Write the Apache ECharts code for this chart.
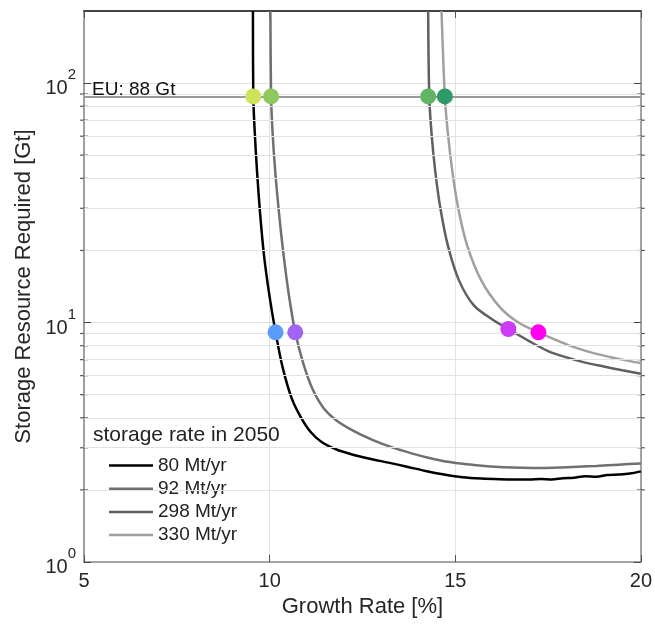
<!DOCTYPE html>
<html><head><meta charset="utf-8">
<script src="https://cdn.jsdelivr.net/npm/echarts/dist/echarts.min.js"></script>
<style>html,body{margin:0;padding:0;background:#fff}#c{width:655px;height:626px}</style>
</head><body><div id="c"></div>
<script>
// ---- data ----
const xTicks = [5, 10, 15, 20];
const yMinorTicks = [2,3,4,5,6,7,8,9,20,30,40,50,60,70,80,90];
const seriesNames = ['80 Mt/yr', '92 Mt/yr', '298 Mt/yr', '330 Mt/yr'];

const rate80X = [9.55,9.56,9.6,9.66,9.74,9.85,10.0,10.16,10.35,10.6,10.85,11.1,11.4,11.8,12.2,12.7,13.2,13.7,14.2,14.7,15.2,15.7,16.2,16.6,17.0,17.3,17.6,17.9,18.2,18.5,18.8,19.1,19.4,19.7,20.0];
const rate80Y = [200,88,62,43,29,19,12.8,9.1,6.5,4.8,4.0,3.5,3.17,2.95,2.82,2.7,2.6,2.5,2.4,2.32,2.26,2.23,2.215,2.21,2.21,2.22,2.21,2.24,2.25,2.28,2.27,2.31,2.32,2.34,2.39];

const rate92X = [10.02,10.04,10.08,10.15,10.25,10.37,10.52,10.69,10.9,11.15,11.45,11.8,12.3,12.8,13.3,13.8,14.3,14.8,15.3,15.8,16.3,16.8,17.3,17.8,18.3,18.8,19.4,20.0];
const rate92Y = [200,88,62,43,29,19.5,13,9.1,6.8,5.3,4.4,3.9,3.5,3.22,3.01,2.85,2.72,2.62,2.56,2.52,2.49,2.475,2.47,2.48,2.5,2.52,2.55,2.58];

const rate298X = [14.27,14.3,14.36,14.46,14.6,14.8,15.1,15.5,16.0,16.43,17.0,17.5,18.0,18.5,19.0,19.5,20.0];
const rate298Y = [200,88,62,43,30,21,15,11.8,10.3,9.4,8.35,7.6,7.15,6.8,6.55,6.32,6.11];

const rate330X = [14.63,14.72,14.8,14.92,15.08,15.32,15.7,16.2,16.7,17.24,17.8,18.3,18.8,19.4,20.0];
const rate330Y = [200,88,62,43,30,21,15,11.6,10.0,9.1,8.35,7.8,7.4,7.05,6.77];

const dotsX = [9.56, 10.04, 14.27, 14.72, 10.16, 10.69, 16.43, 17.24];
const dotsY = [88, 88, 88, 88, 9.1, 9.1, 9.4, 9.1];

const euValue = 88;
const euLabel = 'EU: 88 Gt';
const legendTitle = 'storage rate in 2050';

// ---- styles ----
const FONT = 'Liberation Sans, Arial, Helvetica, sans-serif';
const lineColors = ['#000000', '#707070', '#606060', '#a0a0a0'];
const dotColors = ['#cde35a', '#8fc95d', '#62b465', '#2e9a68', '#5b9bfb', '#a164f5', '#cc3cf5', '#ff00ef'];
const gridColor = '#e2e2e2';

const zip = (xs, ys) => xs.map((x, i) => [x, ys[i]]);
const curves = [zip(rate80X, rate80Y), zip(rate92X, rate92Y), zip(rate298X, rate298Y), zip(rate330X, rate330Y)];

const chart = echarts.init(document.getElementById('c'), null, {renderer: 'canvas'});

const supLabel = v => {
  const l = Math.log10(v), e = Math.round(l);
  if (Math.abs(l - e) > 1e-6) return '';
  return '{b|10}{s|' + e + '}';
};

const lineSeries = curves.map((d, i) => ({
  name: seriesNames[i], type: 'line', data: d, xAxisIndex: 0, yAxisIndex: 0,
  symbol: 'none', smooth: 0.3, z: 3,
  lineStyle: {color: lineColors[i], width: 2.5}, itemStyle: {color: lineColors[i]},
  clip: true
}));

const minorTickData = [];
yMinorTicks.forEach(v => { minorTickData.push([xTicks[0], v]); minorTickData.push([xTicks[xTicks.length - 1], v]); });

const option = {
  animation: false,
  backgroundColor: '#fff',
  textStyle: {fontFamily: FONT},
  grid: {left: 84, right: 14, top: 11, bottom: 64, containLabel: false},
  legend: {
    data: seriesNames, orient: 'vertical', left: 104, top: 451,
    icon: 'rect', itemWidth: 44, itemHeight: 2.5, itemGap: 4.2,
    textStyle: {fontSize: 19, color: '#222', fontFamily: FONT},
    selectedMode: false
  },
  graphic: [{
    type: 'text', left: 93, top: 425, z: 10,
    style: {text: legendTitle, fontSize: 21, fill: '#222', fontFamily: FONT}
  }],
  xAxis: [{
    type: 'value', min: 5, max: 20, interval: 5, position: 'bottom',
    axisLine: {lineStyle: {color: '#8a8a8a', width: 1.5}},
    axisTick: {inside: true, length: 7, lineStyle: {color: '#555'}},
    axisLabel: {fontSize: 20, color: '#262626', margin: 9, fontFamily: FONT},
    splitLine: {show: true, lineStyle: {color: gridColor, width: 1}},
    name: 'Growth Rate [%]', nameLocation: 'middle', nameGap: 33,
    nameTextStyle: {fontSize: 22, color: '#262626', fontFamily: FONT}
  }, {
    type: 'value', min: 5, max: 20, interval: 5, position: 'top',
    axisLine: {lineStyle: {color: '#444', width: 2}},
    axisTick: {inside: true, length: 7, lineStyle: {color: '#555'}},
    axisLabel: {show: false}, splitLine: {show: false}
  }],
  yAxis: [{
    type: 'log', logBase: 10, min: 1, max: 200, position: 'left',
    axisLine: {show: true, lineStyle: {color: '#a0a0a0', width: 2}},
    axisTick: {inside: true, length: 7, lineStyle: {color: '#444'}},
    axisLabel: {
      formatter: supLabel, margin: 8, color: '#262626',
      rich: {
        b: {fontSize: 20, fontFamily: FONT, color: '#262626', padding: [11, 0, 0, 0]},
        s: {fontSize: 15, fontFamily: FONT, color: '#262626', verticalAlign: 'top'}
      }
    },
    splitLine: {show: true, lineStyle: {color: gridColor, width: 1}},
    name: 'Storage Resource Required [Gt]', nameLocation: 'middle', nameGap: 48,
    nameTextStyle: {fontSize: 22, color: '#262626', fontFamily: FONT}
  }, {
    type: 'log', logBase: 10, min: 1, max: 200, position: 'right',
    axisLine: {show: true, lineStyle: {color: '#888', width: 1.5}},
    axisTick: {inside: true, length: 7, lineStyle: {color: '#444'}},
    axisLabel: {show: false}, splitLine: {show: false}
  }],
  series: [
    {
      type: 'scatter', name: 'minor', data: minorTickData, xAxisIndex: 0, yAxisIndex: 0,
      symbol: 'rect', symbolSize: [8, 1.2], itemStyle: {color: '#333'}, clip: true, z: 2, silent: true,
      markLine: {
        silent: true, symbol: 'none', animation: false,
        label: {show: false},
        lineStyle: {color: gridColor, width: 1, type: 'solid'},
        data: yMinorTicks.map(v => ({yAxis: v}))
      }
    },
    {
      type: 'line', name: 'eu', data: [], xAxisIndex: 0, yAxisIndex: 0, z: 2,
      markLine: {
        silent: true, symbol: 'none', animation: false,
        lineStyle: {color: '#9a9a9a', width: 2, type: 'solid'},
        label: {show: true, position: 'insideStartTop', formatter: euLabel, fontSize: 19,
                color: '#111', fontFamily: FONT, distance: [8, -3]},
        data: [{yAxis: euValue}]
      }
    },
    ...lineSeries,
    {
      type: 'scatter', name: 'dots', xAxisIndex: 0, yAxisIndex: 0, z: 6,
      symbolSize: 16,
      data: dotsX.map((x, i) => ({value: [x, dotsY[i]], itemStyle: {color: dotColors[i], opacity: 1}}))
    }
  ]
};
chart.setOption(option);
</script></body></html>
